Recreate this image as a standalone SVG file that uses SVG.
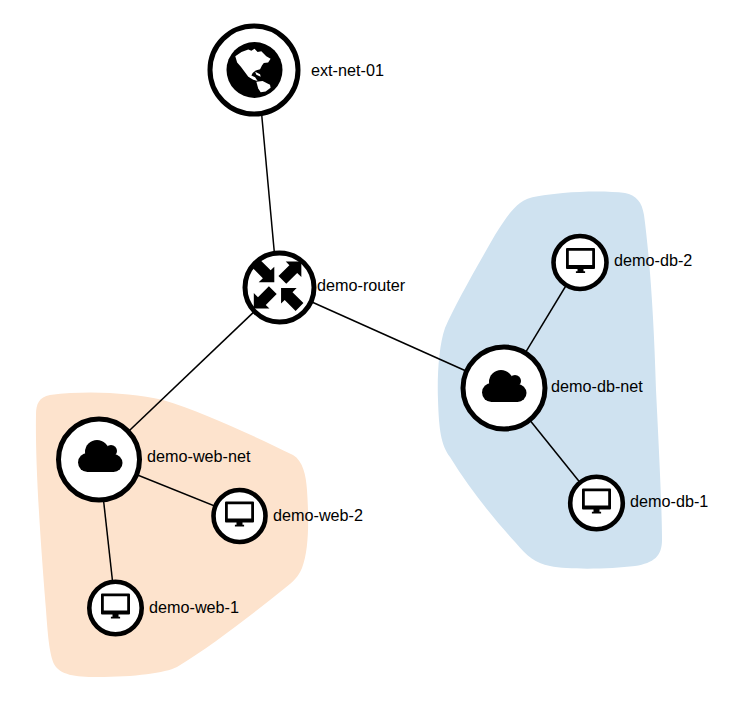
<svg xmlns="http://www.w3.org/2000/svg" width="740" height="712" viewBox="0 0 740 712">
<style>
text{font-family:"Liberation Sans",Arial,sans-serif;font-size:16.2px;fill:#000}
.ring{fill:#fff;stroke:#000;stroke-width:5}
.small{fill:#fff;stroke:#000;stroke-width:4.6}
.link{stroke:#000;stroke-width:1.5;fill:none}
</style>
<defs>
<g id="cloud"><circle cx="-3" cy="-7" r="12"/><circle cx="11" cy="-8" r="6"/><circle cx="13.5" cy="4" r="9"/><circle cx="-12.5" cy="3.5" r="9.5"/><rect x="-13" y="-6" width="27" height="19"/></g>
<g id="monitor"><path fill-rule="evenodd" d="M-13.5 -14.5H13.5Q14.5 -14.5 14.5 -13.5V5.5Q14.5 6.5 13.5 6.5H3V8.8H4.6V10.5H-4.6V8.8H-3V6.5H-13.5Q-14.5 6.5 -14.5 5.5V-13.5Q-14.5 -14.5 -13.5 -14.5ZM-11.7 -11.7V2.5H11.7V-11.7Z"/></g>
</defs>
<path fill="#fde3cd" d="M36 415C36 404 39 397 50 395C90 390 130 393 163 400C200 411 250 434 293 455C303 461 306 475 307 490C309 520 309 550 302 568C298 577 294 581 285 588C250 616 210 647 177 667C165 673 135 677 97 677C75 677 60 675 54 664C50 655 48 640 46 610C42 560 35 470 36 415Z"/>
<path fill="#cfe2f0" d="M520 203C528 196 545 195 563 193C585 191 610 191 625 193C636 195 642 202 644 215C650 260 654 320 656 390C659 450 662 510 662 540C662 556 654 563 635 566C610 569 570 570 550 566C535 563 528 557 515 542C495 520 470 490 450 457C441 445 439 430 438 400C437 375 439 345 445 328C455 305 475 270 495 235C505 219 512 209 520 203Z"/>
<g id="connectors">
<line class="link" x1="257.6" y1="70" x2="277.5" y2="287"/>
<line class="link" x1="279.500" y1="287.500" x2="504" y2="388"/>
<line class="link" x1="279.500" y1="287.500" x2="99" y2="459.500"/>
<line class="link" x1="504" y1="388" x2="580" y2="262.5"/>
<line class="link" x1="504" y1="388" x2="596.5" y2="503"/>
<line class="link" x1="99" y1="459.500" x2="239.5" y2="516"/>
<line class="link" x1="99" y1="459.500" x2="115.5" y2="608"/>
</g>
<g id="ext-net-01"><circle class="ring" cx="254" cy="70" r="44"/><circle cx="254.500" cy="70" r="28"/>
<g transform="translate(254.500,68) scale(.31) translate(-170,-160)" fill="#fff"><path d="M108 122L128 108L150 100L160 104L170 98L180 108L192 106L208 122L222 130L214 142L200 144L194 152L188 164L174 168L164 176L160 184L172 190L180 202L166 198L150 188L138 172L126 156L114 142Z"/><path d="M176 204L196 202L220 214L222 224L206 236L190 238L182 226Z"/><path d="M172 172L188 180L190 188L176 182Z"/></g>
<text x="311" y="76">ext-net-01</text></g>
<g id="demo-router"><circle class="ring" cx="279.500" cy="287.500" r="34.500"/><g transform="translate(279.500,287.500) scale(1.04)"><polygon points="21,-25 6,-25 9.500,-21.500 -1,-11 6.500,-3.500 17,-14 21,-10"/><polygon points="-24.700,20.300 -9.700,20.300 -13.200,16.800 -2.700,6.300 -10.200,-1.200 -20.700,9.300 -24.700,5.300"/><polygon points="-5,-5 -5,-20 -8.500,-16.500 -19,-27 -26.500,-19.500 -16,-9 -20,-5"/><polygon points="1.500,.5 1.500,15.500 5,12 15.500,22.500 23,15 12.500,4.500 16.500,.5"/></g><text x="317" y="291">demo-router</text></g>
<g id="demo-web-net"><circle class="ring" cx="99" cy="459.500" r="40.500"/><use href="#cloud" transform="translate(100,459)"/><text x="147" y="462">demo-web-net</text></g>
<g id="demo-web-2"><circle class="small" cx="239.500" cy="516" r="26"/><use href="#monitor" transform="translate(239.500,516)"/><text x="273" y="520.500">demo-web-2</text></g>
<g id="demo-web-1"><circle class="small" cx="115.500" cy="608" r="26.200"/><use href="#monitor" transform="translate(115.500,608)"/><text x="149" y="612.500">demo-web-1</text></g>
<g id="demo-db-net"><circle class="ring" cx="504" cy="388" r="41"/><use href="#cloud" transform="translate(504,389)"/><text x="551" y="392">demo-db-net</text></g>
<g id="demo-db-2"><circle class="small" cx="580" cy="262.500" r="26.500"/><use href="#monitor" transform="translate(580.500,262.500)"/><text x="614" y="266">demo-db-2</text></g>
<g id="demo-db-1"><circle class="small" cx="596.500" cy="503" r="26.300"/><use href="#monitor" transform="translate(596.500,503)"/><text x="630" y="507">demo-db-1</text></g>
</svg>
